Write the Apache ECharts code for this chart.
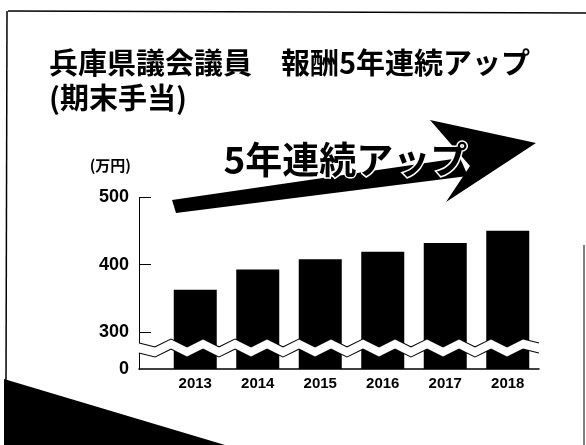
<!DOCTYPE html>
<html>
<head>
<meta charset="utf-8">
<script src="https://cdn.jsdelivr.net/npm/echarts@6/dist/echarts.min.js"></script>
<style>
  html, body { margin: 0; padding: 0; background: #fff; }
  #chart { width: 586px; height: 445px; }
</style>
</head>
<body>
<div id="chart"></div>
<script>
// data
let years = [2013, 2014, 2015, 2016, 2017, 2018];
let pay = [363, 393, 408, 419, 432, 450];   // 万円
let yTicks = [0, 300, 400, 500];

let chart = echarts.init(document.getElementById('chart'));

const jp = '"Noto Sans CJK JP", "Noto Sans", sans-serif';
const num = '"Liberation Sans", Arial, sans-serif';

let option = {
    backgroundColor: '#fff',
    animation: false,
    title: {
        text: '兵庫県議会議員　報酬5年連続アップ\n(期末手当)',
        left: 44,
        top: 40,
        textStyle: {
            fontFamily: jp,
            fontSize: 29,
            fontWeight: 'bold',
            lineHeight: 35,
            color: '#000'
        }
    },
    grid: {
        left: 139,
        right: 47,
        top: 197,
        bottom: 76
    },
    xAxis: {
        type: 'value',
        min: 2012.1,
        max: 2018.5,
        splitLine: { show: false },
        axisTick: { show: false },
        axisLine: { show: true, lineStyle: { color: '#000', width: 1.5 } },
        axisLabel: {
            customValues: years,
            formatter: v => String(v),
            color: '#000',
            fontFamily: num,
            fontWeight: 'bold',
            fontSize: 15,
            margin: 7
        }
    },
    yAxis: {
        type: 'value',
        min: 0,
        max: 500,
        interval: 100,
        name: '(万円)',
        nameLocation: 'end',
        nameGap: 24,
        nameTextStyle: {
            fontFamily: jp,
            fontSize: 15,
            fontWeight: 'bold',
            color: '#000',
            align: 'right',
            padding: [0, 8, 0, 0]
        },
        breaks: [{ start: 25, end: 284, gap: 13 }],
        breakArea: {
            show: true,
            expandOnClick: false,
            zigzagAmplitude: 4,
            zigzagMinSpan: 16,
            zigzagMaxSpan: 16,
            zigzagZ: 100,
            itemStyle: {
                color: '#fff',
                borderColor: '#000',
                borderWidth: 2,
                borderType: 'solid',
                opacity: 1
            }
        },
        splitLine: { show: false },
        axisLine: { show: true, lineStyle: { color: '#000', width: 1 } },
        axisTick: {
            show: true,
            inside: true,
            length: 12,
            customValues: [300, 400, 500],
            lineStyle: { color: '#000' }
        },
        axisLabel: {
            customValues: yTicks,
            color: '#000',
            fontFamily: num,
            fontWeight: 'bold',
            fontSize: 18,
            margin: 10
        }
    },
    series: [{
        type: 'bar',
        barWidth: 43,
        itemStyle: { color: '#000' },
        data: years.map((y, i) => [y, pay[i]])
    }],
    graphic: [
        // frame lines of the slide
        { type: 'line', shape: { x1: 8, y1: 11, x2: 586, y2: 13 }, style: { stroke: '#000', lineWidth: 1.5 } },
        { type: 'line', shape: { x1: 7, y1: 11, x2: 6, y2: 382 }, style: { stroke: '#000', lineWidth: 1.5 } },
        { type: 'line', shape: { x1: 584, y1: 245, x2: 584, y2: 445 }, style: { stroke: '#000', lineWidth: 1 } },
        // dark wedge in the lower left corner
        { type: 'polygon', shape: { points: [[4, 379], [225, 445], [4, 445]] }, style: { fill: '#000' } },
        // big arrow
        { type: 'polygon', z: 10, shape: { points: [[172, 200], [176, 213], [468, 176], [460, 158]] }, style: { fill: '#000' } },
        { type: 'polygon', z: 10, shape: { points: [[430, 120], [536, 143], [446, 202], [470, 166]] }, style: { fill: '#000' } },
        {
            type: 'text', z: 20, left: 222, top: 140,
            style: {
                text: '5年連続アップ',
                font: 'bold 37px ' + jp,
                fill: '#000',
                stroke: '#fff',
                lineWidth: 3
            }
        }
    ]
};
chart.setOption(option);
</script>
</body>
</html>
